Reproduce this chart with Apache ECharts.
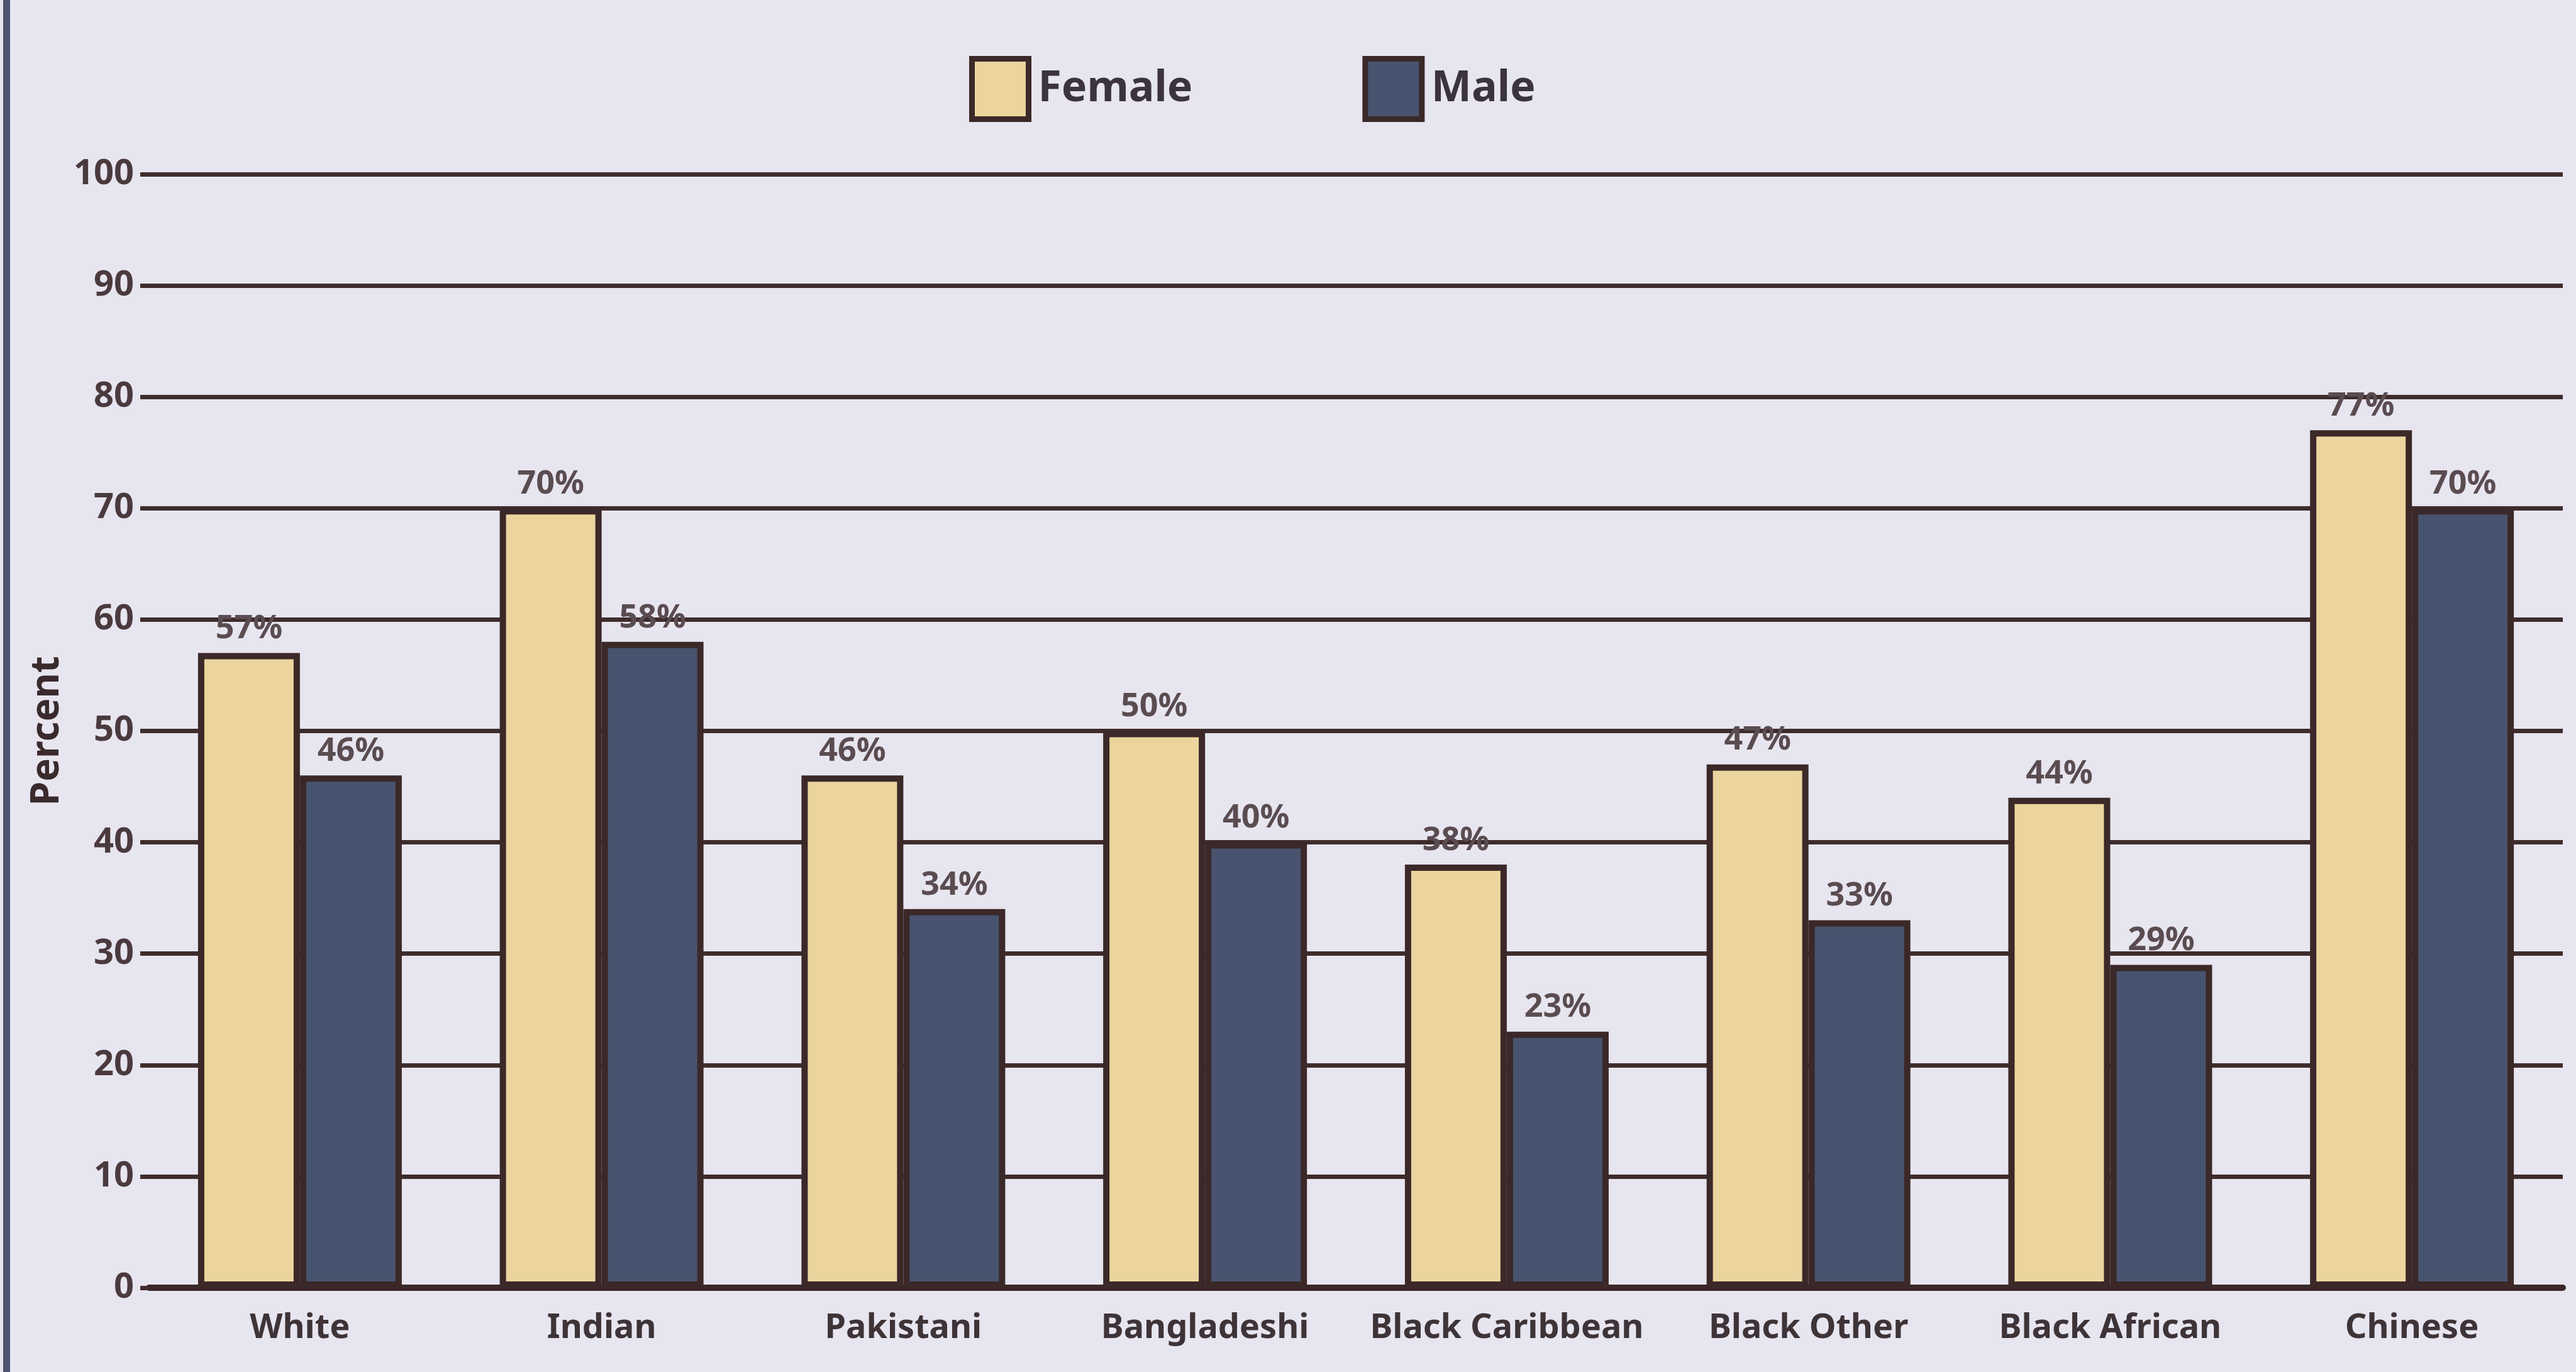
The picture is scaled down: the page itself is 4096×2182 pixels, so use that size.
<!DOCTYPE html>
<html>
<head>
<meta charset="utf-8">
<script src="https://cdn.jsdelivr.net/npm/echarts@6/dist/echarts.min.js"></script>
<style>
html,body{margin:0;padding:0;background:#e7e5ef;}
#chart{width:4096px;height:2182px;}
</style>
</head>
<body>
<div id="chart"></div>
<script>
const categories = ['White','Indian','Pakistani','Bangladeshi','Black Caribbean','Black Other','Black African','Chinese'];
const femaleValues = [57,70,46,50,38,47,44,77];
const maleValues = [46,58,34,40,23,33,29,70];
const yTicks = {min:0, max:100, interval:10};
const seriesNames = ['Female','Male'];

const FONT = '"Noto Sans", "Open Sans", sans-serif';
const BORDER = '#3b2828';
const GRID = '#3e2c2c';

const chart = echarts.init(document.getElementById('chart'), null, {renderer:'canvas'});

function barSeries(name, data, color){
  return {
    name: name,
    type: 'bar',
    data: data,
    barWidth: 162,
    barGap: '0%',
    itemStyle: {color: color, borderColor: BORDER, borderWidth: 10},
    label: {
      show: true, position: 'top', distance: 12,
      formatter: '{c}%',
      fontFamily: FONT, fontSize: 52, fontWeight: 'bold', color: '#5a4c50'
    }
  };
}

chart.setOption({
  backgroundColor: '#e7e5ef',
  animation: false,
  graphic: [{
    type: 'rect', left: 5, top: 0,
    shape: {width: 11, height: 2182},
    style: {fill: '#4d5370'}
  }],
  legend: {
    data: seriesNames,
    left: 1536, top: 84,
    icon: 'rect',
    itemWidth: 90, itemHeight: 96,
    itemGap: 270,
    itemStyle: {borderColor: BORDER, borderWidth: 9},
    textStyle: {fontFamily: FONT, fontSize: 68, fontWeight: 'bold', color: '#3b3340', padding: [0,0,0,10]}
  },
  grid: {left: 237, right: 21, top: 277, bottom: 134},
  xAxis: {
    type: 'category',
    data: categories,
    axisLine: {lineStyle: {color: BORDER, width: 10}},
    axisTick: {show: false},
    axisLabel: {interval: 0, margin: 38, fontFamily: FONT, fontSize: 54, fontWeight: 'bold', color: '#3e3438'}
  },
  yAxis: {
    type: 'value',
    min: yTicks.min, max: yTicks.max, interval: yTicks.interval,
    name: 'Percent',
    nameLocation: 'middle',
    nameGap: 112,
    nameTextStyle: {fontFamily: FONT, fontSize: 62, fontWeight: 'bold', color: '#3a2a2c'},
    axisLine: {show: false},
    axisTick: {show: true, length: 14, lineStyle: {color: GRID, width: 7}},
    splitLine: {lineStyle: {color: GRID, width: 7}},
    axisLabel: {margin: 24, fontFamily: FONT, fontSize: 56, fontWeight: 'bold', color: '#4a3a3e'}
  },
  series: [
    barSeries(seriesNames[0], femaleValues, '#ebd49e'),
    barSeries(seriesNames[1], maleValues, '#48546f')
  ]
});
</script>
</body>
</html>
